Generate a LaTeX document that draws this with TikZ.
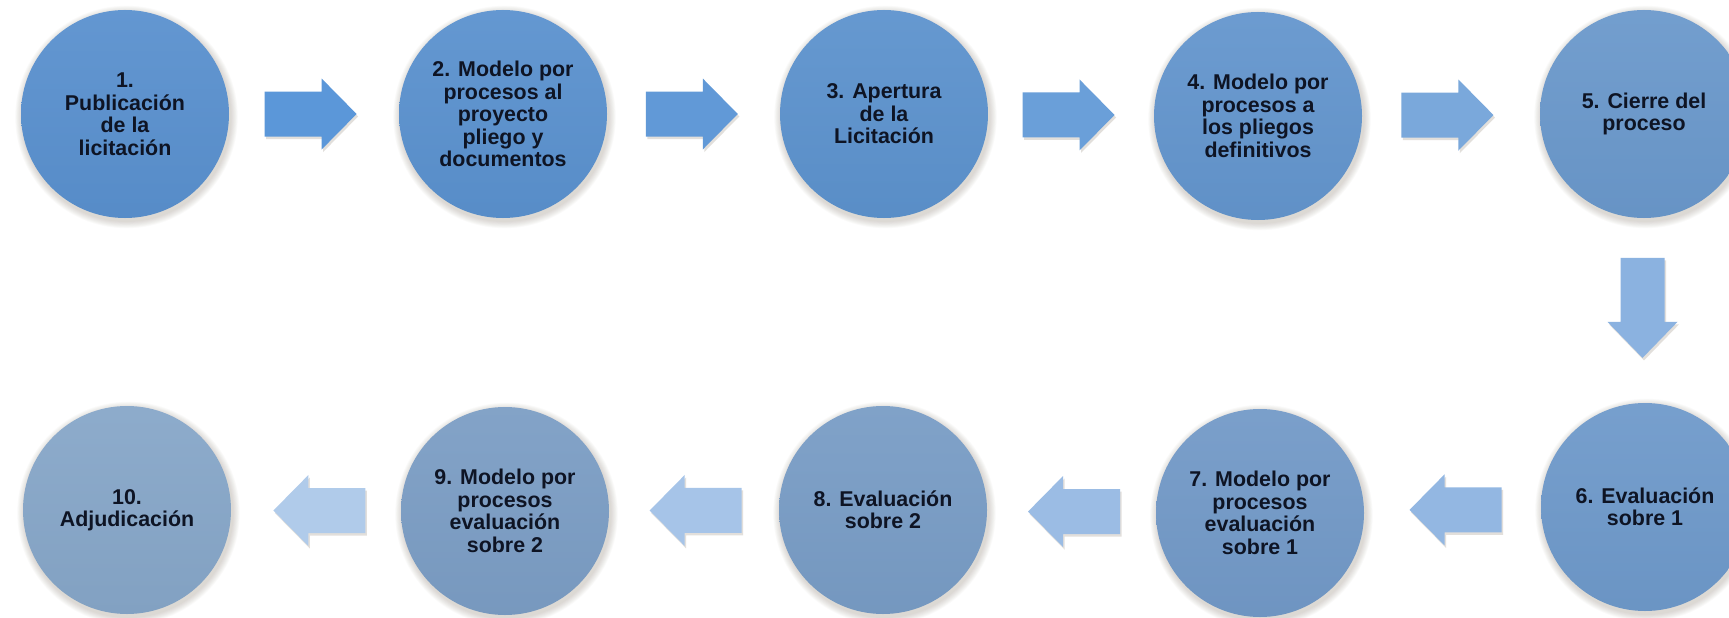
\documentclass[tikz,border=0pt]{standalone}
\usepackage{fontspec}
\setmainfont{Liberation Sans}
\usetikzlibrary{calc,backgrounds}
\definecolor{textc}{RGB}{14,20,36}
\definecolor{shc}{RGB}{95,80,60}
\definecolor{k1}{HTML}{5990CE}
\definecolor{k2}{HTML}{5A91CE}
\definecolor{k3}{HTML}{5C92CD}
\definecolor{k4}{HTML}{6395CD}
\definecolor{k5}{HTML}{6A98CB}
\definecolor{k6}{HTML}{6E99CA}
\definecolor{k7}{HTML}{7299C7}
\definecolor{k8}{HTML}{789CC5}
\definecolor{k9}{HTML}{7B9DC4}
\definecolor{k10}{HTML}{86A6C8}
\definecolor{r1}{HTML}{5B97D9}
\definecolor{r2}{HTML}{6199D7}
\definecolor{r3}{HTML}{6A9FD9}
\definecolor{r4}{HTML}{7AA8DB}
\definecolor{r5}{HTML}{8BB2E0}
\definecolor{r6}{HTML}{93B7E2}
\definecolor{r7}{HTML}{9BBCE4}
\definecolor{r8}{HTML}{A6C4E8}
\definecolor{r9}{HTML}{B0CBEA}
\begin{document}
\begin{tikzpicture}[x=1pt,y=-1pt,
  stepnode/.style={circle, minimum size=208pt, inner sep=0pt, align=center,
    font=\bfseries\fontsize{21.4}{22.5}\selectfont, text=textc,
    top color=#1!94!white, bottom color=#1!97!black},
  rarr/.pic={\fill[pic actions] (-46,-22.5) -- (11,-22.5) -- (11,-35.5) -- (46,0) -- (11,35.5) -- (11,22.5) -- (-46,22.5) -- cycle;},
  darr/.pic={\fill[pic actions] (-50,-22) -- (14,-22) -- (14,-35) -- (50,0) -- (14,35) -- (14,22) -- (-50,22) -- cycle;},
  arrsh/.style={fill=shc, opacity=0.18}
]
\useasboundingbox (0,0) rectangle (1729,618);
\clip (0,0) rectangle (1729,618);

\node[stepnode=k1] (c1) at (125,114) {1.\\Publicación\\de la\\licitación};
\node[stepnode=k2] (c2) at (503,114) {2. Modelo por\\procesos al\\proyecto\\pliego y\\documentos};
\node[stepnode=k3] (c3) at (884,114) {3. Apertura\\de la\\Licitación};
\node[stepnode=k4] (c4) at (1258,116) {4. Modelo por\\procesos a\\los pliegos\\definitivos};
\node[stepnode=k5] (c5) at (1644,114) {5. Cierre del\\proceso};
\node[stepnode=k6] (c6) at (1645,507) {6. Evaluación\\sobre 1};
\node[stepnode=k7] (c7) at (1260,513) {7. Modelo por\\procesos\\evaluación\\sobre 1};
\node[stepnode=k8] (c8) at (883,510) {8. Evaluación\\sobre 2};
\node[stepnode=k9] (c9) at (505,511) {9. Modelo por\\procesos\\evaluación\\sobre 2};
\node[stepnode=k10] (c10) at (127,510) {10.\\Adjudicación};

\begin{scope}[on background layer]
  \fill[white] (0,0) rectangle (1729,618);
  \foreach \n in {c1,c2,c3,c4,c5,c6,c7,c8,c9,c10}{
    \foreach \r in {1,2,...,8}{
      \fill[shc, opacity=0.028] ($(\n.center)+(1.5,3)$) circle ({104+\r*0.9});
    }
  }
\end{scope}

% arrow shadows
\pic[arrsh] at ($(c1.east)!0.48!(c2.west)+(1.5,2.5)$) {rarr};
\pic[arrsh] at ($(c2.east)!0.49!(c3.west)+(1.5,2.5)$) {rarr};
\pic[arrsh] at ($(c3.east)!0.485!(c4.west)+(1.5,2.5)$) {rarr};
\pic[arrsh] at ($(c4.east)!0.48!(c5.west)+(1.5,2.5)$) {rarr};
\pic[arrsh, rotate=-90] at ($(c5.south)!0.486!(c6.north)+(-0.5,2.5)$) {darr};
\pic[arrsh, rotate=180] at ($(c7.east)!0.517!(c6.west)+(1.5,2.5)$) {rarr};
\pic[arrsh, rotate=180] at ($(c8.east)!0.515!(c7.west)+(1.5,2.5)$) {rarr};
\pic[arrsh, rotate=180] at ($(c9.east)!0.51!(c8.west)+(1.5,2.5)$) {rarr};
\pic[arrsh, rotate=180] at ($(c10.east)!0.52!(c9.west)+(1.5,2.5)$) {rarr};

\pic[fill=r1] at ($(c1.east)!0.48!(c2.west)$) {rarr};
\pic[fill=r2] at ($(c2.east)!0.49!(c3.west)$) {rarr};
\pic[fill=r3] at ($(c3.east)!0.485!(c4.west)$) {rarr};
\pic[fill=r4] at ($(c4.east)!0.48!(c5.west)$) {rarr};
\pic[fill=r5, rotate=-90] at ($(c5.south)!0.486!(c6.north)+(-2,0)$) {darr};
\pic[fill=r6, rotate=180] at ($(c7.east)!0.517!(c6.west)$) {rarr};
\pic[fill=r7, rotate=180] at ($(c8.east)!0.515!(c7.west)$) {rarr};
\pic[fill=r8, rotate=180] at ($(c9.east)!0.51!(c8.west)$) {rarr};
\pic[fill=r9, rotate=180] at ($(c10.east)!0.52!(c9.west)$) {rarr};
\end{tikzpicture}
\end{document}
